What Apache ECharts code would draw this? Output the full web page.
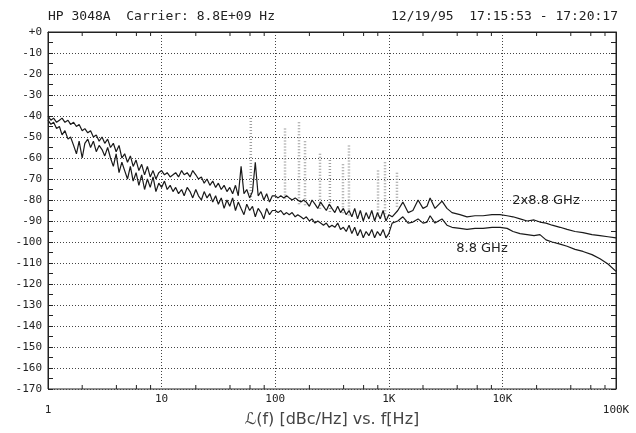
<!DOCTYPE html>
<html><head><meta charset="utf-8">
<script src="https://cdn.jsdelivr.net/npm/echarts@6/dist/echarts.min.js"></script>
<style>html,body{margin:0;padding:0;background:#fff}#c{width:636px;height:433px}</style>
</head><body><div id="c"></div>
<script>
// Frequencies (Hz) for the noisy low-offset segment, 1 Hz .. 1 kHz
const freqLow = [1,1.06,1.12,1.19,1.26,1.33,1.41,1.5,1.58,1.68,1.78,1.88,2,2.11,2.24,2.37,2.51,2.66,2.82,2.99,3.16,3.35,3.55,3.76,3.98,4.22,4.47,4.73,5.01,5.31,5.62,5.96,6.31,6.68,7.08,7.5,7.94,8.41,8.91,9.44,
10,10.6,11.2,11.9,12.6,13.3,14.1,15,15.8,16.8,17.8,18.8,20,21.1,22.4,23.7,25.1,26.6,28.2,29.9,31.6,33.5,35.5,37.6,39.8,42.2,44.7,47.3,50.1,53.1,56.2,59.6,63.1,66.8,70.8,75,79.4,84.1,89.1,94.4,
100,106,112,119,126,133,141,150,158,168,178,188,200,211,224,237,251,266,282,299,316,335,355,376,398,422,447,473,501,531,562,596,631,668,708,750,794,841,891,944,1000];
// 2x8.8 GHz trace (dBc/Hz), low segment
const upperLow = [-40,-42,-41,-43,-42,-41,-43,-42,-44,-43,-45,-44,-47,-46,-48,-47,-50,-49,-52,-50,-53,-51,-55,-53,-57,-54,-60,-58,-62,-59,-64,-61,-66,-63,-68,-64,-69,-66,-70,-67,
-66,-68,-67,-69,-68,-67,-69,-66,-68,-67,-69,-66,-68,-70,-69,-72,-70,-73,-71,-74,-72,-75,-73,-76,-74,-77,-73,-78,-64,-77,-75,-79,-76,-62,-78,-76,-80,-77,-81,-78,
-78,-79,-78,-79,-78,-79,-80,-79,-80,-81,-80,-81,-83,-80,-82,-84,-81,-83,-85,-82,-84,-86,-83,-86,-84,-87,-85,-88,-84,-89,-85,-90,-86,-89,-85,-90,-86,-89,-85,-90,-87];
// 8.8 GHz trace (dBc/Hz), low segment
const lowerLow = [-42,-44,-43,-46,-45,-49,-47,-51,-50,-54,-58,-52,-60,-53,-51,-55,-52,-57,-54,-56,-59,-55,-60,-64,-58,-67,-62,-66,-70,-64,-71,-67,-73,-68,-75,-70,-74,-69,-76,-72,
-74,-71,-75,-73,-76,-74,-77,-75,-78,-74,-76,-79,-75,-78,-80,-76,-79,-77,-81,-78,-82,-79,-84,-80,-83,-79,-85,-81,-84,-87,-82,-85,-83,-88,-84,-86,-89,-84,-87,-85,
-85,-86,-85,-87,-86,-87,-86,-88,-87,-88,-89,-88,-90,-89,-91,-90,-91,-92,-91,-93,-92,-93,-91,-94,-93,-95,-92,-96,-93,-97,-94,-98,-95,-97,-94,-98,-95,-97,-94,-98,-96];
// High-offset segment, 1 kHz .. 100 kHz
const freqHigh = [1070,1200,1330,1480,1630,1810,2000,2170,2310,2550,2940,3250,3600,4230,4880,5740,6750,8100,9530,11000,12400,14300,16500,19000,21400,24200,27400,32200,37100,43600,51200,61500,72300,85000,100000];
const upperHigh = [-88,-85,-81,-86,-85,-80,-84,-83,-79,-84,-80.5,-84,-86,-87,-88,-87.5,-87.5,-87,-87,-87.5,-88,-89,-90,-89.5,-90.5,-91,-92,-93,-94,-95,-95.5,-96.5,-97,-97.5,-98];
const lowerHigh = [-91,-90,-88,-91,-90.5,-89,-91,-90.5,-87.5,-91,-89,-92,-93,-93.5,-94,-93.5,-93.5,-93,-93,-93.5,-95,-96,-96.5,-97,-96.5,-99,-100,-101,-102,-103.5,-104.5,-106,-108,-110.5,-114];
// Spurious lines (gray dotted)
const spurFreq = [61,122,162,183,248,303,395,446,804,926,1180];
const spurPeak = [-41,-46,-43,-52,-58,-61,-63,-54,-66,-62,-67];
const spurBase = [-80,-80,-82,-83,-85,-86,-87,-88,-88,-88,-84];
// Axis tick labels and minor tick positions
const xTickLabels = ['1','10','100','1K','10K','100K'];
const xMinorTicks = [2,4,6,8,20,40,60,80,200,400,600,800,2000,4000,6000,8000,20000,40000,60000,80000];
const seriesNames = ['2x8.8 GHz','8.8 GHz'];
const seriesLabelAt = [[24200,-80.2],[6610,-103.2]];
const headerLeft = 'HP 3048A  Carrier: 8.8E+09 Hz';
const headerRight = '12/19/95  17:15:53 - 17:20:17';
const xName = 'ℒ(f) [dBc/Hz] vs. f[Hz]';

function zip(f, v) { return f.map((x, i) => [x, v[i]]); }
const upperData = zip(freqLow, upperLow).concat(zip(freqHigh, upperHigh));
const lowerData = zip(freqLow, lowerLow).concat(zip(freqHigh, lowerHigh));
const spurData = spurFreq.map((f, i) => [f, spurPeak[i], spurBase[i]]);

const mono = 'DejaVu Sans Mono';
const gridDots = {type: [1, 2], color: '#444', width: 1};
const chart = echarts.init(document.getElementById('c'), null, {renderer: 'canvas'});
const yAxisCommon = {
  type: 'value', min: -170, max: 0, interval: 10,
  axisLine: {show: true, lineStyle: {color: '#222', width: 1}},
  axisTick: {show: true, inside: true, length: 5, lineStyle: {color: '#222'}},
  minorTick: {show: true, splitNumber: 2, length: 5, lineStyle: {color: '#222'}}
};
chart.setOption({
  animation: false,
  backgroundColor: '#fff',
  title: [
    {text: headerLeft, left: 48, top: 10, padding: 0, textStyle: {fontFamily: mono, fontSize: 13, fontWeight: 'normal', color: '#222'}},
    {text: headerRight, right: 18, top: 10, padding: 0, textStyle: {fontFamily: mono, fontSize: 13, fontWeight: 'normal', color: '#222'}}
  ],
  grid: {left: 48, right: 20, top: 32, bottom: 44, containLabel: false, outerBoundsMode: 'none',
    show: true, borderColor: '#222', borderWidth: 1},
  xAxis: {
    type: 'log', logBase: 10, min: 1, max: 100000,
    name: xName, nameLocation: 'middle', nameGap: 23, nameMoveOverlap: false,
    nameTextStyle: {fontFamily: 'DejaVu Sans', fontSize: 16, color: '#444'},
    axisLine: {show: true, lineStyle: {color: '#222'}},
    axisTick: {show: false},
    splitLine: {show: true, lineStyle: gridDots},
    axisLabel: {
      margin: 5, lineHeight: 11, fontFamily: mono, fontSize: 11, color: '#222',
      showMinLabel: true, showMaxLabel: true,
      formatter: function (v) {
        const i = Math.round(Math.log10(v));
        const t = xTickLabels[i];
        return (i === 0 || i === xTickLabels.length - 1) ? '\n' + t : t;
      }
    }
  },
  yAxis: [
    Object.assign({}, yAxisCommon, {
      position: 'left',
      splitLine: {show: true, lineStyle: gridDots},
      axisLabel: {margin: 6, fontFamily: mono, fontSize: 11, color: '#222',
        formatter: v => v === 0 ? '+0' : String(v)}
    }),
    Object.assign({}, yAxisCommon, {
      position: 'right', splitLine: {show: false}, axisLabel: {show: false}
    })
  ],
  series: [
    {
      type: 'custom', name: 'spurs', coordinateSystem: 'cartesian2d', silent: true, z: 1,
      data: spurData, encode: {x: 0, y: [1, 2]},
      renderItem: function (params, api) {
        const f = api.value(0);
        const p = api.coord([f, api.value(1)]);
        const b = api.coord([f, api.value(2)]);
        return {type: 'line', shape: {x1: p[0], y1: p[1], x2: b[0], y2: b[1]},
          style: {stroke: '#a0a0a0', lineWidth: 2.5, lineDash: [1, 2]}};
      }
    },
    {
      type: 'line', name: seriesNames[0], data: upperData, showSymbol: false, z: 3,
      lineStyle: {color: '#1a1a1a', width: 1.2}, itemStyle: {color: '#1a1a1a'},
      markPoint: {symbol: 'circle', symbolSize: 0, silent: true,
        data: [{coord: seriesLabelAt[0]}],
        label: {show: true, position: 'inside', formatter: seriesNames[0], color: '#222', fontSize: 13, fontFamily: 'DejaVu Sans'}}
    },
    {
      type: 'line', name: seriesNames[1], data: lowerData, showSymbol: false, z: 3,
      lineStyle: {color: '#1a1a1a', width: 1.2}, itemStyle: {color: '#1a1a1a'},
      markPoint: {symbol: 'circle', symbolSize: 0, silent: true,
        data: [{coord: seriesLabelAt[1]}],
        label: {show: true, position: 'inside', formatter: seriesNames[1], color: '#222', fontSize: 13, fontFamily: 'DejaVu Sans'}}
    },
    {
      type: 'custom', name: 'minorTicks', coordinateSystem: 'cartesian2d', silent: true, z: 4,
      data: xMinorTicks.map(f => [f, -170]), encode: {x: 0, y: 1},
      renderItem: function (params, api) {
        const f = api.value(0);
        const b = api.coord([f, -170]);
        const t = api.coord([f, 0]);
        return {type: 'group', children: [
          {type: 'line', shape: {x1: b[0], y1: b[1], x2: b[0], y2: b[1] - 4}, style: {stroke: '#222', lineWidth: 1}},
          {type: 'line', shape: {x1: t[0], y1: t[1], x2: t[0], y2: t[1] + 4}, style: {stroke: '#222', lineWidth: 1}}
        ]};
      }
    }
  ]
});
</script></body></html>
